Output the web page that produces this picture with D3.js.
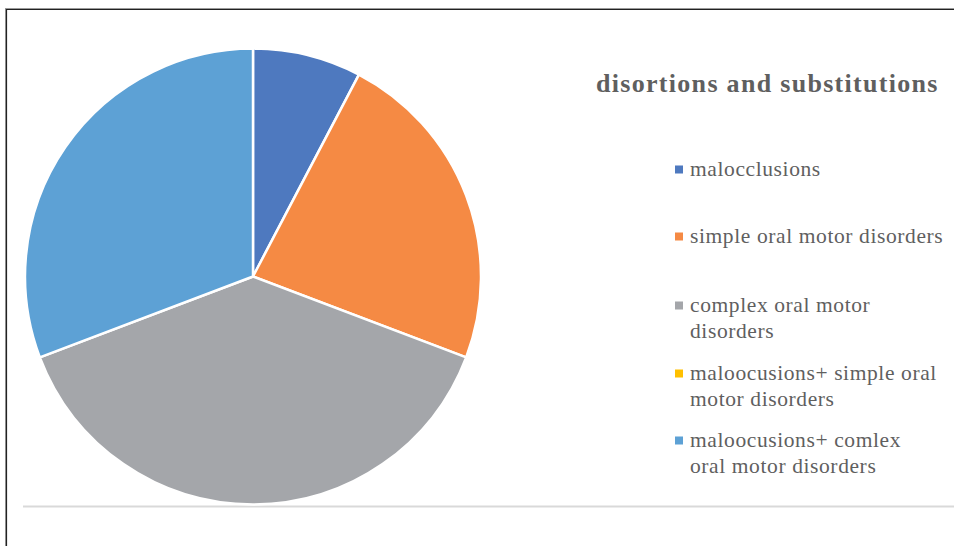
<!DOCTYPE html>
<html>
<head>
<meta charset="utf-8">
<script src="https://cdn.jsdelivr.net/npm/d3@7"></script>
<style>
  html, body { margin: 0; padding: 0; background: #fff; }
  svg { display: block; }
</style>
</head>
<body>
<svg id="chart" width="954" height="546"></svg>
<script>
// Chart data
const title = "disortions and substitutions";
const categories = [
  "malocclusions",
  "simple oral motor disorders",
  "complex oral motor disorders",
  "maloocusions+ simple oral motor disorders",
  "maloocusions+ comlex oral motor disorders"
];
// Legend text as it wraps onto lines
const legendLines = [
  ["malocclusions"],
  ["simple oral motor disorders"],
  ["complex oral motor", "disorders"],
  ["maloocusions+ simple oral", "motor disorders"],
  ["maloocusions+ comlex", "oral motor disorders"]
];
const values = [1, 3, 5, 0, 4];
const colors = ["#4e79bf", "#f58a44", "#a4a6aa", "#ffc000", "#5da1d5"];

const svg = d3.select("#chart");

// Outer frame (top and left edges)
svg.append("line").attr("x1", 5).attr("x2", 954).attr("y1", 8.5).attr("y2", 8.5)
  .attr("stroke", "#9a9a9a").attr("stroke-width", 1);
svg.append("line").attr("x1", 6).attr("x2", 954).attr("y1", 9.5).attr("y2", 9.5)
  .attr("stroke", "#222").attr("stroke-width", 1.2);
svg.append("line").attr("x1", 5.5).attr("x2", 5.5).attr("y1", 8).attr("y2", 546)
  .attr("stroke", "#9a9a9a").attr("stroke-width", 1);
svg.append("line").attr("x1", 6.5).attr("x2", 6.5).attr("y1", 9).attr("y2", 546)
  .attr("stroke", "#222").attr("stroke-width", 1.2);

// Separator under the chart
svg.append("line").attr("x1", 23).attr("x2", 954).attr("y1", 506.5).attr("y2", 506.5)
  .attr("stroke", "#d9d9d9").attr("stroke-width", 2);

// Pie
const cx = 253, cy = 276.5, radius = 228;
const pie = d3.pie().sort(null).value(d => d)(values);
const arc = d3.arc().innerRadius(0).outerRadius(radius);
const color = d3.scaleOrdinal().domain(d3.range(categories.length)).range(colors);

svg.append("g")
  .attr("transform", `translate(${cx},${cy})`)
  .selectAll("path")
  .data(pie.filter(d => d.value > 0))
  .join("path")
  .attr("d", arc)
  .attr("fill", d => color(d.index))
  .attr("stroke", "#fff")
  .attr("stroke-width", 2.5)
  .attr("stroke-linejoin", "round");

// Legend area clipped at the right edge of the plot region
svg.append("clipPath").attr("id", "legendClip")
  .append("rect").attr("x", 560).attr("y", 20).attr("width", 384).attr("height", 480);

const legend = svg.append("g").attr("clip-path", "url(#legendClip)");

legend.append("text")
  .attr("x", 596).attr("y", 92)
  .attr("font-family", "'Liberation Serif', 'Times New Roman', serif")
  .attr("font-weight", "bold")
  .attr("font-size", 26)
  .attr("letter-spacing", 1.3)
  .attr("fill", "#5f5f5f")
  .text(title);

const rowY = d3.scaleOrdinal().domain(d3.range(categories.length)).range([176, 243, 312, 380, 447]);
const lineGap = 26;

const rows = legend.selectAll("g.item")
  .data(categories)
  .join("g")
  .attr("class", "item")
  .attr("transform", (d, i) => `translate(0,${rowY(i)})`);

rows.append("rect")
  .attr("x", 675).attr("y", -10.5)
  .attr("width", 8).attr("height", 8)
  .attr("fill", (d, i) => color(i));

rows.append("text")
  .attr("font-family", "'Liberation Serif', 'Times New Roman', serif")
  .attr("font-size", 21.5)
  .attr("letter-spacing", 0.6)
  .attr("fill", "#5f5f5f")
  .selectAll("tspan")
  .data((d, i) => legendLines[i])
  .join("tspan")
  .attr("x", 690)
  .attr("y", (d, j) => j * lineGap)
  .text(d => d);
</script>
</body>
</html>
